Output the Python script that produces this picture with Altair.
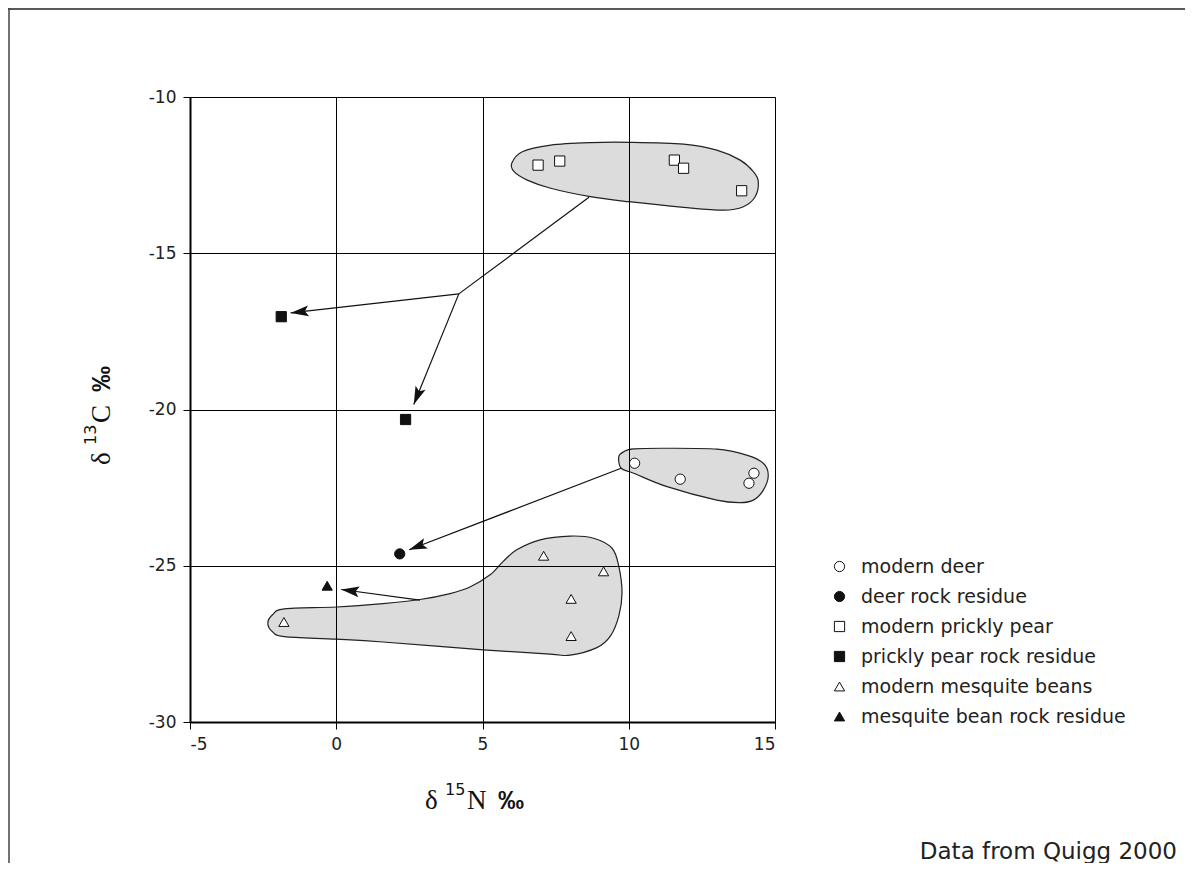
import math
import altair as alt
import pandas as pd

# ---------------- data ----------------
series_labels = ["modern deer", "deer rock residue", "modern prickly pear",
                 "prickly pear rock residue", "modern mesquite beans",
                 "mesquite bean rock residue"]
series_shapes = ["circle", "circle", "square", "square", "triangle-up", "triangle-up"]
series_fills = ["white", "#111111", "white", "#111111", "white", "#111111"]
series_strokes = ["#111111"] * 6
series_sizes = [105, 105, 135, 135, 120, 120]

deer_x = [10.20, 11.76, 14.28, 14.11]
deer_y = [-21.72, -22.23, -22.04, -22.36]
deer_res_x = [2.17]
deer_res_y = [-24.62]
pear_x = [6.90, 7.64, 11.56, 11.875, 13.86]
pear_y = [-12.18, -12.05, -12.02, -12.28, -13.00]
pear_res_x = [-1.88, 2.37]
pear_res_y = [-17.03, -20.32]
mesq_x = [-1.79, 7.09, 9.14, 8.03, 8.03]
mesq_y = [-26.80, -24.68, -25.18, -26.06, -27.25]
mesq_res_x = [-0.31]
mesq_res_y = [-25.64]

# hull outlines (traced)
pear_hull_x = [6.00, 6.36, 7.33, 8.69, 10.0, 11.875, 13.01, 13.81, 14.26, 14.43,
               14.32, 13.92, 13.24, 11.875, 10.0, 8.69, 7.33, 6.53, 6.08]
pear_hull_y = [-12.12, -11.75, -11.54, -11.46, -11.45, -11.51, -11.70, -12.02, -12.39, -12.71,
               -13.19, -13.51, -13.62, -13.53, -13.35, -13.19, -12.92, -12.66, -12.39]
deer_hull_x = [9.66, 9.83, 10.17, 11.31, 13.01, 14.03, 14.60, 14.77, 14.60, 14.26,
               13.81, 13.01, 11.31, 10.17, 9.74]
deer_hull_y = [-21.51, -21.35, -21.26, -21.24, -21.27, -21.46, -21.72, -22.10, -22.58, -22.90,
               -22.98, -22.90, -22.47, -22.04, -21.88]
mesq_hull_x = [-2.34, -2.17, -1.77, 0.0, 1.60, 2.86, 3.89, 4.57, 5.26, 5.71, 6.17, 6.97,
               8.0, 8.80, 9.43, 9.66, 9.77, 9.66, 9.37, 8.91, 8.0, 7.31, 5.03, 1.60,
               0.0, -1.77, -2.17]
mesq_hull_y = [-26.84, -26.56, -26.38, -26.32, -26.21, -26.08, -25.89, -25.68, -25.29, -24.86,
               -24.49, -24.17, -24.05, -24.12, -24.44, -25.02, -25.87, -26.61, -27.25, -27.62,
               -27.86, -27.83, -27.69, -27.44, -27.35, -27.27, -27.12]

# arrows: start -> end (heads only where flagged)
arrow_x1 = [8.64, 4.19, 4.19, 9.74, 2.86]
arrow_y1 = [-13.21, -16.30, -16.30, -21.88, -26.10]
arrow_x2 = [4.19, -1.56, 2.65, 2.49, 0.17]
arrow_y2 = [-16.30, -16.91, -19.84, -24.49, -25.76]
arrow_head = [False, True, True, True, True]

x_ticks = [-5, 0, 5, 10, 15]
y_ticks = [-30, -25, -20, -15, -10]

# axis title pieces
title_parts_x = ["δ", "15", "N", "‰"]
title_parts_y = ["δ", "13", "C", "‰"]

# ---------------- layout ----------------
W, H = 585, 625
PX = W / 20.0
PY = H / 20.0
FONT = "DejaVu Sans"
SERIF = "Liberation Serif"

# ---------------- tables ----------------
rows = []
for lab, xs, ys in [
    (series_labels[0], deer_x, deer_y),
    (series_labels[1], deer_res_x, deer_res_y),
    (series_labels[2], pear_x, pear_y),
    (series_labels[3], pear_res_x, pear_res_y),
    (series_labels[4], mesq_x, mesq_y),
    (series_labels[5], mesq_res_x, mesq_res_y),
]:
    for a, b in zip(xs, ys):
        rows.append({"x": a, "y": b, "series": lab})
pts = pd.DataFrame(rows)

hull_rows = []
for g, xs, ys in [("pear", pear_hull_x, pear_hull_y), ("deer", deer_hull_x, deer_hull_y),
                  ("mesq", mesq_hull_x, mesq_hull_y)]:
    for i, (a, b) in enumerate(zip(xs, ys)):
        hull_rows.append({"x": a, "y": b, "g": g, "o": i})
hulls = pd.DataFrame(hull_rows)

segs = pd.DataFrame({"x": arrow_x1, "y": arrow_y1, "x2": arrow_x2, "y2": arrow_y2})

R = 9.0
head_rows = []
for sx, sy, tx, ty, h in zip(arrow_x1, arrow_y1, arrow_x2, arrow_y2, arrow_head):
    if not h:
        continue
    dxp = (tx - sx) * PX
    dyp = -(ty - sy) * PY
    L = math.hypot(dxp, dyp)
    ux, uy = dxp / L, dyp / L
    ang = math.degrees(math.atan2(ux, -uy)) % 360
    head_rows.append({"x": tx - ux * R / PX, "y": ty + uy * R / PY, "angle": ang})
heads = pd.DataFrame(head_rows)

xscale = alt.Scale(domain=[-5, 15], nice=False, zero=False)
yscale = alt.Scale(domain=[-30, -10], nice=False, zero=False)

common_axis = dict(grid=True, gridColor="black", gridWidth=1, gridOpacity=1,
                   domainColor="black", domainWidth=2, tickColor="black", tickSize=7,
                   tickWidth=1, labelFont=FONT, labelFontSize=17, labelColor="#222",
                   labelPadding=7, labelExpr="'' + datum.value", title=None, zindex=1)
xaxis = alt.Axis(values=x_ticks, **common_axis)
yaxis = alt.Axis(values=y_ticks, **common_axis)

hull_layer = alt.Chart(hulls).mark_line(
    interpolate="cardinal-closed", fill="#dcdcdc", stroke="#222", strokeWidth=1.2
).encode(
    x=alt.X("x:Q", scale=xscale, axis=xaxis),
    y=alt.Y("y:Q", scale=yscale, axis=yaxis),
    detail="g:N",
    order="o:Q",
)

seg_layer = alt.Chart(segs).mark_rule(color="#111", strokeWidth=1.2).encode(
    x=alt.X("x:Q", scale=xscale), y=alt.Y("y:Q", scale=yscale), x2="x2:Q", y2="y2:Q"
)

head_layer = alt.Chart(heads).mark_point(
    shape="M0,-1L0.6,1L0,0.6L-0.6,1Z", filled=True, color="#111", size=(2 * R) ** 2,
    opacity=1
).encode(
    x=alt.X("x:Q", scale=xscale), y=alt.Y("y:Q", scale=yscale),
    angle=alt.Angle("angle:Q", scale=None),
)

legend = alt.Legend(title=None, orient="none", legendX=640, legendY=460,
                    labelFont=FONT, labelFontSize=19, labelColor="#222", labelLimit=0,
                    rowPadding=10, labelOffset=12, symbolOpacity=1,
                    symbolStrokeWidth=1)

pt_layer = alt.Chart(pts).mark_point(filled=True, strokeWidth=1, opacity=1).encode(
    x=alt.X("x:Q", scale=xscale),
    y=alt.Y("y:Q", scale=yscale),
    shape=alt.Shape("series:N", scale=alt.Scale(domain=series_labels, range=series_shapes),
                    legend=legend),
    fill=alt.Fill("series:N", scale=alt.Scale(domain=series_labels, range=series_fills),
                  legend=legend),
    stroke=alt.Stroke("series:N", scale=alt.Scale(domain=series_labels, range=series_strokes),
                      legend=legend),
    size=alt.Size("series:N", scale=alt.Scale(domain=series_labels, range=series_sizes),
                  legend=legend),
)

note = pd.DataFrame({"t": ["Data from Quigg 2000"]})
note_layer = alt.Chart(note).mark_text(
    align="right", baseline="alphabetic", font=FONT, fontSize=23, color="#222"
).encode(x=alt.value(987), y=alt.value(762), text="t:N")


def piece(txt, font, size, weight, x, y, angle=0):
    d = pd.DataFrame({"t": [txt]})
    return alt.Chart(d).mark_text(
        align="left", baseline="alphabetic", font=font, fontSize=size,
        fontWeight=weight, color="#111", angle=angle
    ).encode(x=alt.value(x), y=alt.value(y), text="t:N")


xt = [
    piece(title_parts_x[0], SERIF, 27, "normal", 235, 712),
    piece(title_parts_x[1], FONT, 16, "normal", 255, 698),
    piece(title_parts_x[2], SERIF, 27, "normal", 277, 712),
    piece(title_parts_x[3], "Liberation Sans", 26, "bold", 308, 712),
]
yt = [
    piece(title_parts_y[0], SERIF, 27, "normal", -80, 368, 270),
    piece(title_parts_y[1], FONT, 16, "normal", -94, 348, 270),
    piece(title_parts_y[2], SERIF, 27, "normal", -80, 326, 270),
    piece(title_parts_y[3], "Liberation Sans", 26, "bold", -80, 295, 270),
]

frame_top = alt.Chart(note).mark_rule(color="#222", strokeWidth=1.5).encode(
    x=alt.value(-182), x2=alt.value(995), y=alt.value(-88)
)
frame_left = alt.Chart(note).mark_rule(color="#444", strokeWidth=1.5).encode(
    x=alt.value(-181), y=alt.value(-89), y2=alt.value(766)
)

chart = alt.layer(
    hull_layer, seg_layer, head_layer, pt_layer, note_layer, frame_top, frame_left, *xt, *yt
).properties(
    width=W, height=H,
    autosize=alt.AutoSizeParams(type="none"),
    padding={"left": 182, "top": 89, "right": 410, "bottom": 141},
).configure_view(
    stroke="black", strokeWidth=2
).configure(background="white")

chart.save("out.html", embed_options={"renderer": "svg", "actions": False})
